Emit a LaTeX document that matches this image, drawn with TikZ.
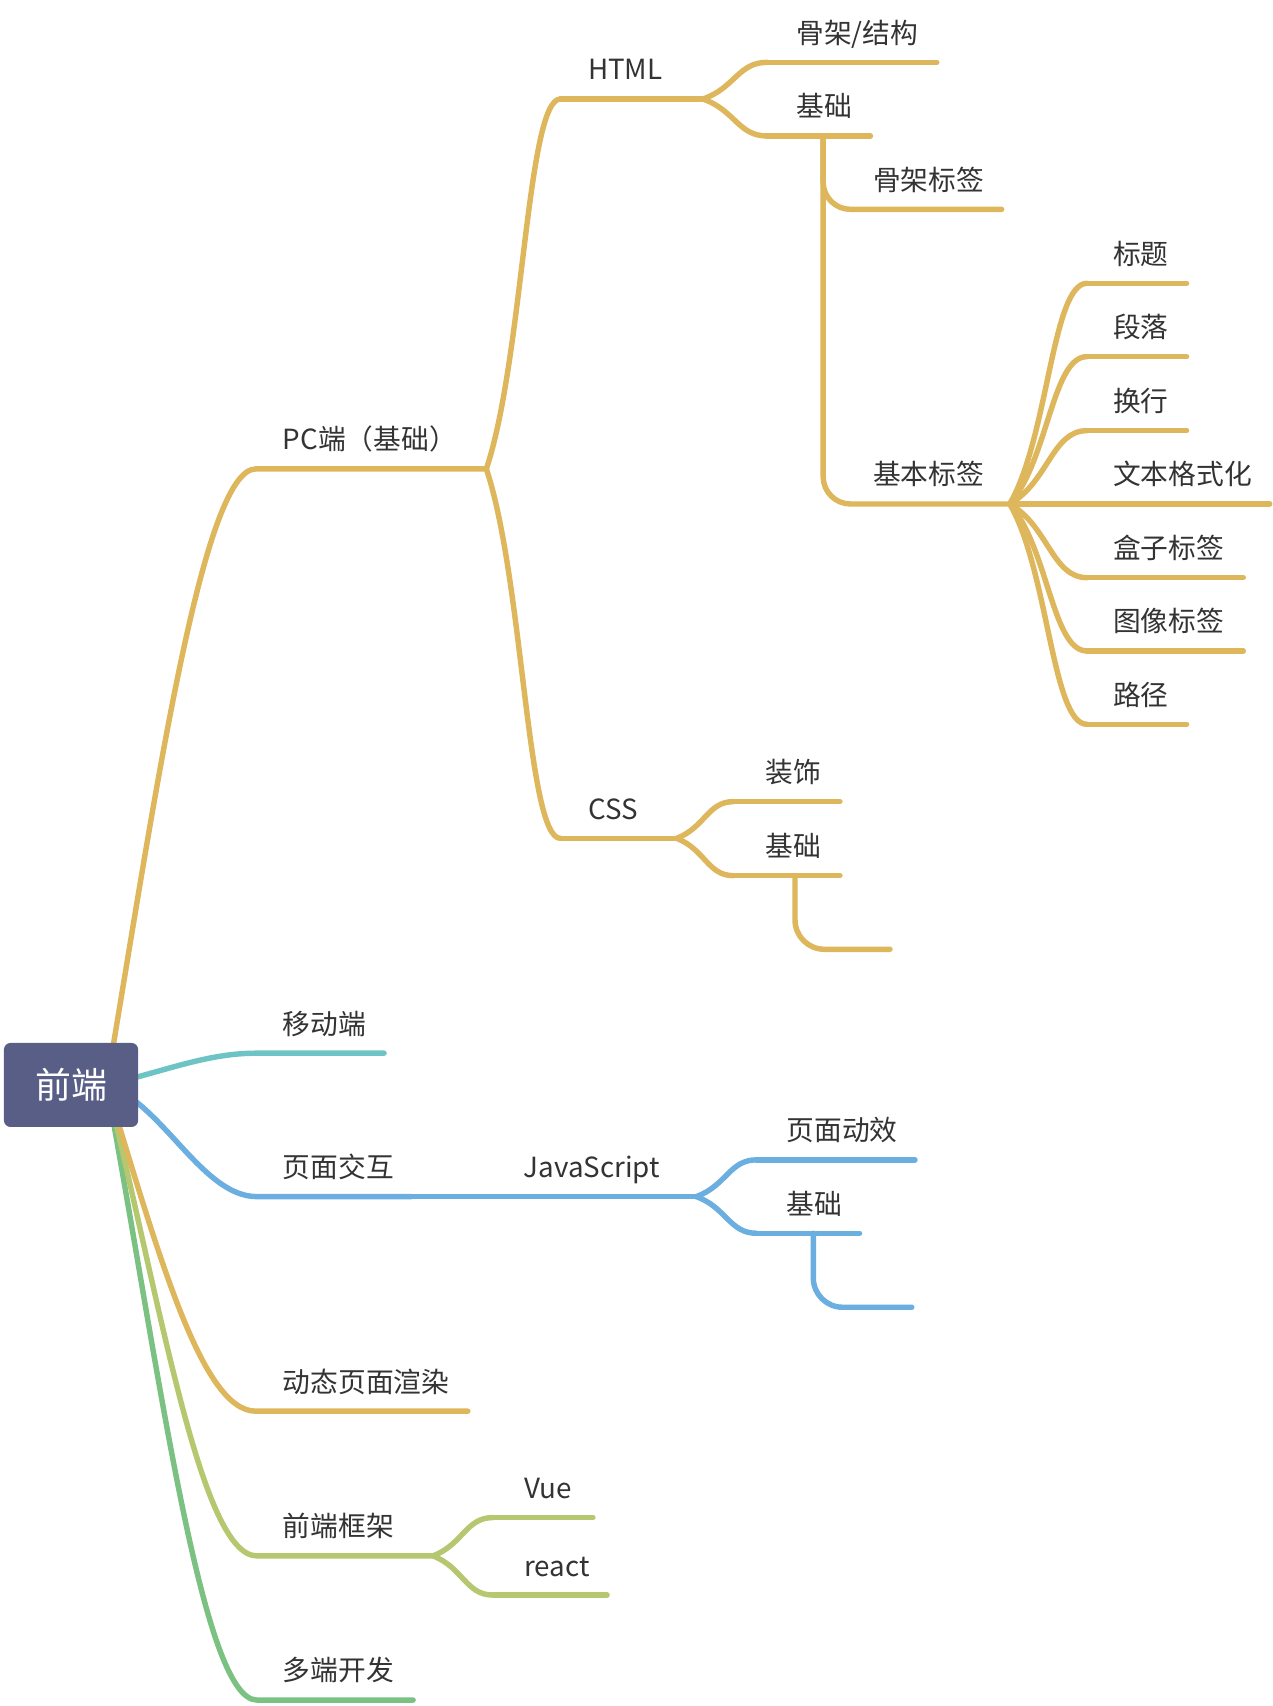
\documentclass[tikz,border=0pt]{standalone}
\usepackage{fontspec}
\setmainfont{Noto Sans CJK SC}
\usetikzlibrary{calc}
\definecolor{corange}{RGB}{222,182,92}
\definecolor{cteal}{RGB}{110,196,196}
\definecolor{cblue}{RGB}{107,174,224}
\definecolor{cygreen}{RGB}{181,200,112}
\definecolor{cgreen}{RGB}{122,193,130}
\definecolor{croot}{RGB}{88,94,134}
\definecolor{ctext}{RGB}{51,51,51}
\newcommand\forkto[3]{\draw[#1] let \p1=(#2), \p2=(#3),
  \p3=({\x1+0.5*(\x2-\x1)},{\y1+0.3*(\y2-\y1)}),
  \p4=({\x2-0.45*(\x2-\x1)},\y2) in
  (\p1) .. controls (\p3) and (\p4) .. (\p2);}
\begin{document}
\begin{tikzpicture}[x=1pt,y=-1pt,line width=5pt,line cap=round,line join=round,
  lbl/.style={anchor=base west,inner sep=0pt,xshift=-2.5pt,text=ctext,font=\fontsize{25.5}{30}\selectfont},
  bor/.style={draw=corange},
  bte/.style={draw=cteal},
  bbl/.style={draw=cblue},
  byg/.style={draw=cygreen},
  bgr/.style={draw=cgreen},
  rootbox/.style={fill=croot,draw=none,rounded corners=6pt,minimum width=123.3pt,minimum height=77.2pt,text=white,inner sep=0pt,font=\fontsize{33}{36}\selectfont}]
\useasboundingbox (0,0) rectangle (1170,1568);
% coordinates
\coordinate (ro) at (98,997);
\coordinate (pc-a) at (235,431);   \coordinate (pc-b) at (447,431);
\coordinate (ht-a) at (515,91);    \coordinate (ht-b) at (646,91);
\coordinate (cs-a) at (515,770.5); \coordinate (cs-b) at (622,770.5);
\coordinate (gj-a) at (705,57.3);  \coordinate (gj-b) at (861,57.3);
\coordinate (hj-a) at (705,125);   \coordinate (hj-b) at (800,125);
\coordinate (hj-v) at (756.6,125);
\coordinate (gq-b) at (920.6,192.4);
\coordinate (jb-b) at (928,463.2);
\coordinate (bt-a) at (999,260.4); \coordinate (bt-b) at (1090.6,260.4);
\coordinate (dl-a) at (999,327.8); \coordinate (dl-b) at (1090.6,327.8);
\coordinate (hh-a) at (999,395.8); \coordinate (hh-b) at (1090.6,395.8);
\coordinate (wb-b) at (1167,463.2);
\coordinate (hz-a) at (999,530.9); \coordinate (hz-b) at (1142.7,530.9);
\coordinate (tx-a) at (999,598.3); \coordinate (tx-b) at (1142.7,598.3);
\coordinate (lj-a) at (999,665.7); \coordinate (lj-b) at (1090.6,665.7);
\coordinate (zs-a) at (674,736.8); \coordinate (zs-b) at (772,736.8);
\coordinate (cj-a) at (674,804.8); \coordinate (cj-b) at (772,804.8);
\coordinate (cj-v) at (730.7,804.8);
\coordinate (ce-b) at (818,872.5);
\coordinate (yd-a) at (235,968);   \coordinate (yd-b) at (353,968);
\coordinate (ym-a) at (236,1099.8); \coordinate (ym-b) at (378,1099.8);
\coordinate (js-b) at (640,1099.8);
\coordinate (dx-a) at (695.4,1066); \coordinate (dx-b) at (841,1066);
\coordinate (jj-a) at (695.4,1133.5); \coordinate (jj-b) at (790,1133.5);
\coordinate (jj-v) at (747.5,1133.5);
\coordinate (je-b) at (838,1201.5);
\coordinate (dt-a) at (235,1297);  \coordinate (dt-b) at (430,1297);
\coordinate (kj-a) at (236,1430);  \coordinate (kj-b) at (398,1430);
\coordinate (vu-a) at (453,1394.8); \coordinate (vu-b) at (545,1394.8);
\coordinate (re-a) at (453,1466);  \coordinate (re-b) at (558,1466);
\coordinate (dd-a) at (236,1562.5); \coordinate (dd-b) at (379.7,1562.5);
% root branches
\draw[bor] (ro) .. controls +(42,-247) and +(-50,0) .. (pc-a) -- (pc-b);
\draw[bte] (ro) .. controls +(52,-12) and +(-45,0) .. (yd-a) -- (yd-b);
\draw[bbl] (ro) .. controls +(52,18) and +(-50,0) .. (ym-a) -- (ym-b);
\draw[bgr] (ro) .. controls +(47,253) and +(-51,0) .. (dd-a) -- (dd-b);
\draw[byg] (ro) .. controls +(50,203) and +(-51,0) .. (kj-a) -- (kj-b);
\draw[bor] (ro) .. controls +(47,153) and +(-50,0) .. (dt-a) -- (dt-b);
% PC subtree
\forkto{bor}{pc-b}{ht-a}
\forkto{bor}{pc-b}{cs-a}
\draw[bor] (ht-a) -- (ht-b);
\draw[bor] (cs-a) -- (cs-b);
\forkto{bor}{ht-b}{gj-a}
\forkto{bor}{ht-b}{hj-a}
\draw[bor] (gj-a) -- (gj-b);
\draw[bor] (hj-a) -- (hj-b);
\draw[bor,rounded corners=25pt] (hj-v) |- (gq-b);
\draw[bor,rounded corners=25pt] (hj-v) |- (jb-b);
\forkto{bor}{jb-b}{bt-a}
\forkto{bor}{jb-b}{dl-a}
\forkto{bor}{jb-b}{hh-a}
\forkto{bor}{jb-b}{hz-a}
\forkto{bor}{jb-b}{tx-a}
\forkto{bor}{jb-b}{lj-a}
\draw[bor] (jb-b) -- (wb-b);
\draw[bor] (bt-a) -- (bt-b);
\draw[bor] (dl-a) -- (dl-b);
\draw[bor] (hh-a) -- (hh-b);
\draw[bor] (hz-a) -- (hz-b);
\draw[bor] (tx-a) -- (tx-b);
\draw[bor] (lj-a) -- (lj-b);
\forkto{bor}{cs-b}{zs-a}
\forkto{bor}{cs-b}{cj-a}
\draw[bor] (zs-a) -- (zs-b);
\draw[bor] (cj-a) -- (cj-b);
\draw[bor,rounded corners=27pt] (cj-v) |- (ce-b);
% JS subtree
\draw[bbl] (ym-b) -- (js-b);
\forkto{bbl}{js-b}{dx-a}
\forkto{bbl}{js-b}{jj-a}
\draw[bbl] (dx-a) -- (dx-b);
\draw[bbl] (jj-a) -- (jj-b);
\draw[bbl,rounded corners=27pt] (jj-v) |- (je-b);
% frameworks
\forkto{byg}{kj-b}{vu-a}
\forkto{byg}{kj-b}{re-a}
\draw[byg] (vu-a) -- (vu-b);
\draw[byg] (re-a) -- (re-b);
% root
\node[rootbox] (root) at (65.3,997.2) {前端};
% labels
\node[lbl] (pc) at (260,413.5) {PC端（基础）};
\node[lbl] (html) at (540.5,73.5) {HTML};
\node[lbl] (css) at (540.5,753) {CSS};
\node[lbl] (gjjg) at (732,39.8) {骨架/结构};
\node[lbl] (hjc) at (732,107.5) {基础};
\node[lbl] (gjbq) at (802.5,174.9) {骨架标签};
\node[lbl] (jbbq) at (802.5,445.5) {基本标签};
\node[lbl] (bt) at (1023,242.9) {标题};
\node[lbl] (dl) at (1023,310.3) {段落};
\node[lbl] (hh) at (1023,378.3) {换行};
\node[lbl] (wb) at (1023,445.7) {文本格式化};
\node[lbl] (hz) at (1023,513.4) {盒子标签};
\node[lbl] (tx) at (1023,580.8) {图像标签};
\node[lbl] (lj) at (1023,648.2) {路径};
\node[lbl] (zs) at (704,719.3) {装饰};
\node[lbl] (cjc) at (704,787.3) {基础};
\node[lbl] (yd) at (260,950.5) {移动端};
\node[lbl] (ym) at (260,1082.3) {页面交互};
\node[lbl] (js) at (481.5,1082.3) {JavaScript};
\node[lbl] (dx) at (723,1048.5) {页面动效};
\node[lbl] (jjc) at (723,1116) {基础};
\node[lbl] (dt) at (260,1279.5) {动态页面渲染};
\node[lbl] (kj) at (260,1412.5) {前端框架};
\node[lbl] (vue) at (482,1377.3) {Vue};
\node[lbl] (react) at (482,1448.5) {react};
\node[lbl] (dd) at (260,1545) {多端开发};
\end{tikzpicture}
\end{document}
